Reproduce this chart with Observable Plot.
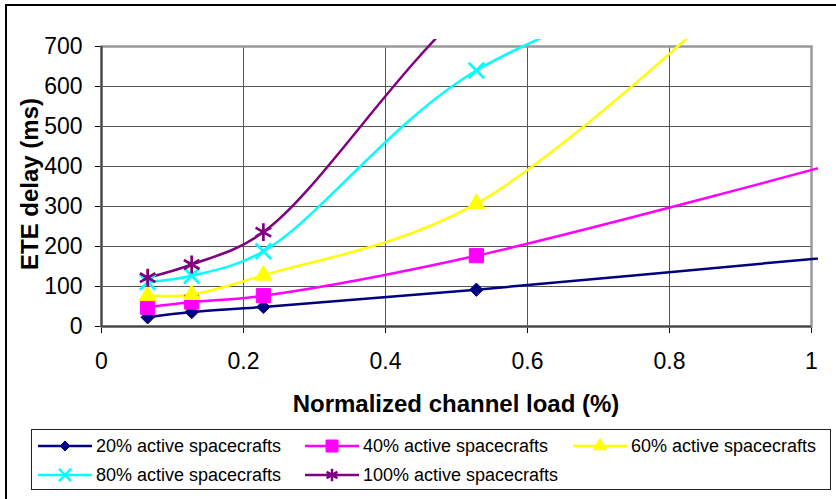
<!DOCTYPE html>
<html><head><meta charset="utf-8">
<script src="https://cdn.jsdelivr.net/npm/d3@7"></script>
<script src="https://cdn.jsdelivr.net/npm/@observablehq/plot@0.6"></script>
<style>
body{margin:0;background:#fff;font-family:Arial,"Liberation Sans",sans-serif;}
#wrap{position:relative;width:836px;height:499px;overflow:hidden;background:#fff;}
#border{position:absolute;left:5px;top:4px;width:860px;height:540px;border-top:2px solid #000;border-left:2px solid #000;}
#chart{position:absolute;left:0;top:0;}
#legend{position:absolute;left:31px;top:429px;width:800px;height:61px;border:1px solid #222;box-sizing:border-box;background:#fff;}
.item{position:absolute;display:flex;align-items:center;height:22px;font-size:18px;color:#000;white-space:nowrap;}
.item svg{display:block;margin-right:4px;}
</style></head>
<body>
<div id="wrap"><div id="border"></div><div id="chart"></div><div id="legend"></div></div>
<script>
// ---- data ----
const xLoad = [0.065, 0.127, 0.228, 0.528, 1.056];
const seriesNames = ["20% active spacecrafts","40% active spacecrafts","60% active spacecrafts","80% active spacecrafts","100% active spacecrafts"];
const delay20  = [23, 36, 49, 92, 178];
const delay40  = [48, 61, 77, 177, 418];
const delay60  = [77, 80, 128, 307, 1100];
const delay80  = [111, 127, 188, 640, 1000];
const delay100 = [122, 155, 236, 820, 1500];
const xTicks = [0, 0.2, 0.4, 0.6, 0.8, 1];
const yTicks = [0, 100, 200, 300, 400, 500, 600, 700];
const xTitle = "Normalized channel load (%)";
const yTitle = "ETE delay (ms)";

// ---- styles ----
const colors = ["#000080", "#FF00FF", "#FFFF00", "#00FFFF", "#800080"];
const symbols = ["diamond2", "square", "triangle", "times", "asterisk"];
const filled = [true, true, true, false, false];
const dotR = [6, 8, 6.3, 7.1, 8.5];

const allSeries = [delay20, delay40, delay60, delay80, delay100];
const rows = [];
allSeries.forEach((vals, i) => vals.forEach((v, j) => rows.push({x: xLoad[j], y: v, series: seriesNames[i]})));

const marks = [
  Plot.ruleX(xTicks.slice(1), {stroke: "#555", strokeWidth: 1}),
  Plot.ruleY(yTicks.slice(1), {stroke: "#555", strokeWidth: 1}),
  Plot.frame({stroke: "#999", strokeWidth: 2.5}),
  Plot.ruleX([0], {stroke: "#444", strokeWidth: 2}),
  Plot.ruleY([0], {stroke: "#444", strokeWidth: 2})
];
seriesNames.forEach((name, i) => {
  const data = rows.filter(d => d.series === name);
  marks.push(Plot.line(data, {x: "x", y: "y", stroke: colors[i], strokeWidth: 2.5, curve: "catmull-rom", clip: true}));
});
seriesNames.forEach((name, i) => {
  const data = rows.filter(d => d.series === name);
  marks.push(Plot.dot(data, filled[i]
    ? {x: "x", y: "y", symbol: symbols[i], r: dotR[i], fill: colors[i], stroke: colors[i], strokeWidth: 1, clip: true}
    : {x: "x", y: "y", symbol: symbols[i], r: dotR[i], fill: "none", stroke: colors[i], strokeWidth: 2.7, clip: true}));
});

const chart = Plot.plot({
  width: 836, height: 420,
  marginLeft: 101, marginRight: 25, marginTop: 46, marginBottom: 94,
  style: {fontFamily: "Arial, 'Liberation Sans', sans-serif", fontSize: "23px", color: "#000", background: "transparent", overflow: "visible"},
  x: {domain: [0, 1], ticks: xTicks, tickFormat: d => String(d), tickSize: 7, tickPadding: 19, label: null},
  y: {domain: [0, 700], ticks: yTicks, tickSize: 6, tickPadding: 13, label: null},
  marks
});
document.getElementById("chart").appendChild(chart);

// Excel lets lines run a few pixels past the plot area
chart.querySelectorAll("clipPath rect").forEach(r => {
  const y = +r.getAttribute("y"), h = +r.getAttribute("height"), w = +r.getAttribute("width");
  r.setAttribute("y", y - 7); r.setAttribute("height", h + 7); r.setAttribute("width", w + 7);
});

const svg = d3.select(chart);
svg.append("text").attr("x", 456).attr("y", 403).attr("text-anchor", "middle")
  .attr("dominant-baseline", "central").attr("font-weight", "bold").attr("font-size", "24px").attr("fill", "#000").text(xTitle);
svg.append("text").attr("transform", "translate(29,184) rotate(-90)").attr("text-anchor", "middle")
  .attr("dominant-baseline", "central").attr("font-weight", "bold").attr("font-size", "24px").attr("fill", "#000").text(yTitle);

// ---- legend ----
const legendSym = {diamond2: d3.symbolDiamond2, square: d3.symbolSquare, triangle: d3.symbolTriangle, times: d3.symbolTimes, asterisk: d3.symbolAsterisk};
const legendSize = [64, 144, 75, 96, 110];
const legendPos = [[6, 5], [273, 5], [541, 5], [6, 34], [273, 34]];
const legend = d3.select("#legend");
seriesNames.forEach((name, i) => {
  const item = legend.append("div").attr("class", "item").style("left", legendPos[i][0] + "px").style("top", legendPos[i][1] + "px");
  const s = item.append("svg").attr("width", 54).attr("height", 22);
  s.append("line").attr("x1", 0).attr("x2", 54).attr("y1", 11).attr("y2", 11).attr("stroke", colors[i]).attr("stroke-width", 2.5);
  s.append("path").attr("transform", "translate(27,11)")
    .attr("d", d3.symbol(legendSym[symbols[i]], legendSize[i])())
    .attr("fill", filled[i] ? colors[i] : "none").attr("stroke", colors[i]).attr("stroke-width", filled[i] ? 1 : 2.5);
  item.append("span").text(name);
});
</script>
</body></html>
